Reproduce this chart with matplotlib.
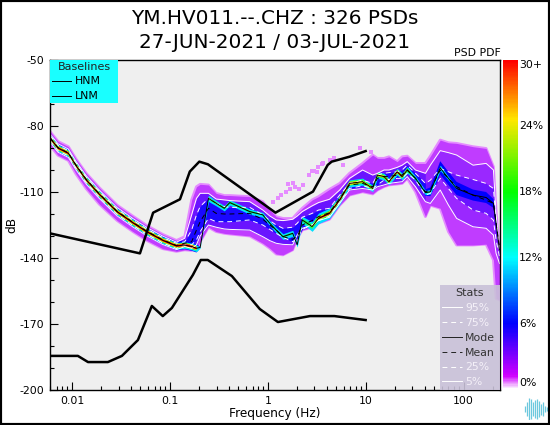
import matplotlib
matplotlib.use('Agg')
import matplotlib.pyplot as plt
from matplotlib.colors import LinearSegmentedColormap
from matplotlib.patches import Rectangle
from matplotlib.ticker import MultipleLocator, NullFormatter
import numpy as np

plt.rcParams['axes.unicode_minus'] = False

# frequency nodes (Hz)
fq = [.006, .0072, .0092, .011, .014, .019, .029, .042, .058, .085, .117,
      .142, .167, .187, .204, .248, .297, .36, .41, .655, .89, 1.05, 1.22,
      1.43, 1.8, 2.0, 2.25, 2.84, 3.3, 4.27, 5.43, 6.85, 9.3, 11.8, 13.2,
      15.4, 17.3, 21, 23.6, 26.6, 32.3, 40.8, 45.8, 57.8, 70, 85, 125, 170,
      202, 215, 233]

mode = [-85.6, -90, -92.4, -98, -104.5, -111, -119, -124, -128, -132, -134.5,
        -134.1, -134.8, -135.6, -135.2, -112.9, -115.1, -117.4, -114.8, -118.9,
        -120.4, -124.2, -127.3, -130.3, -128.8, -134, -122.7, -125.7, -122,
        -119.7, -113.7, -106.1, -105.3, -108.4, -102.3, -103, -105.3, -100.8,
        -103, -100, -103.8, -110.3, -109.9, -99, -103.8, -108.4, -111.4,
        -112.5, -115.2, -124.3, -136.4]
p95 = [-83.7, -88.1, -90.5, -96.1, -102.6, -109.1, -117.1, -122.1, -126.1, -130.1, -132.8,
       -131, -120.4, -112.9, -110.6, -110.6, -113.2, -113.6, -113.9, -114.4,
       -118.2, -120.9, -122.7, -123, -122.4, -120.9, -118.9, -116.3, -114.8,
       -113.3, -109.1, -103.8, -100, -102.3, -101.5, -100, -100, -98.8, -97.8,
       -96.2, -100, -101.5, -97.8, -91.2, -92.1, -93.2, -97.8, -97, -100,
       -119.7, -136.4]
p75 = [-84.4, -88.8, -91.2, -96.8, -103.3, -109.8, -117.8, -122.8, -126.8, -130.8, -133.3,
       -132.6, -127.3, -120.4, -116.6, -112.9, -115.1, -116.6, -117, -117,
       -120.4, -123, -125, -126.5, -126, -124.2, -121.5, -119.7, -118.2, -117.4,
       -111.4, -106.1, -104.6, -106.1, -102.3, -101.5, -101.2, -100.8, -100,
       -97.8, -101.5, -106.1, -104.6, -99.3, -100.8, -102.3, -104.3, -106.1,
       -108.4, -122.8, -137.1]
mean = [-85.4, -89.8, -92.2, -97.7, -104.2, -110.8, -118.8, -123.8, -127.8, -131.8, -134.3,
        -133.3, -132.6, -127.3, -123.5, -117.4, -119.7, -120, -120, -119.7,
        -122.4, -125, -127.3, -130.3, -131.5, -130.3, -125, -123, -121.2, -119.4,
        -112.9, -106.8, -106.1, -107.6, -103.8, -103, -103, -102.3, -102.3, -100,
        -103.8, -109.9, -109.1, -100, -103.8, -107.6, -111.4, -113.7, -115.2,
        -124.3, -134.9]
p25 = [-86.8, -91.2, -93.6, -99.2, -105.7, -112.2, -120.2, -125.2, -129.2, -133.2, -135.7,
       -134, -134, -131.8, -128, -122, -123.5, -123.5, -123.5, -122.7, -125, -127,
       -128.8, -130.6, -132.6, -131, -127, -125, -123, -120.9, -114.4, -108.4,
       -107.1, -108.4, -106.8, -104.6, -104.3, -103.8, -103.8, -101.5, -104.6,
       -111.4, -110.6, -103.8, -108.4, -112.9, -118.2, -119.7, -122.8, -131.8, -139.4]
p5 = [-87.5, -91.9, -94.3, -99.9, -106.4, -112.9, -120.9, -125.9, -129.9, -133.9, -136.2,
      -134.8, -135.6, -134, -130, -125, -126, -126.8, -127, -127.3, -130.3, -132.1,
      -133.3, -133.8, -134, -129.5, -126.5, -125, -123, -121.5, -115.2, -109.1,
      -108.4, -109.1, -107.6, -106.8, -106.1, -105.6, -105.3, -103, -107.6, -114.4,
      -115.2, -109.1, -115.9, -122, -125.8, -126.5, -129.6, -137.9, -142.5]

# edge of the coloured cloud
outer_hi = [-82.6, -87, -89.4, -95, -101.5, -108, -116, -121, -125.2, -129.3, -132,
            -130.3, -113.6, -107.6, -106.5, -106.8, -110.6, -111.6, -111.6, -112.1,
            -114.4, -118.2, -121.2, -122, -122, -119.7, -117.4, -113.6, -112.1, -108.8,
            -106.1, -101.5, -97, -93.2, -94.7, -94.7, -94, -96.2, -94, -93.7, -97, -97,
            -93.7, -86.4, -87.6, -87.9, -89.4, -90.2, -98.5, -118.2, -137.9]
outer_lo = [-88.9, -93.3, -95.7, -101.8, -108.5, -115.5, -123, -128, -132, -135.8, -137,
            -136.3, -136.6, -136, -132.6, -126, -128, -128.8, -129.1, -130, -133.3,
            -135.6, -138.2, -138.6, -136.3, -131, -127.3, -126, -124.2, -122.4, -116,
            -111.4, -109.9, -110.9, -109.1, -107.6, -106.8, -106.4, -106.1, -103.8,
            -109.9, -121.2, -116, -117.4, -128, -134.1, -134.1, -133.7, -140.9, -158.4, -159.1]

# half widths (dB) of the hot ridge around the mode
blue_w = [2.0]*11 + [1.9, 1.9, 1.9, 0.3] + [0.0]*26 + [1.5, 2.0, 3.0, 3.0, 3.0, 2.5, 2.5, 2.0, 2.0, 1.0]
cyan_w = [1.5]*11 + [1.5, 1.5, 1.5, 0.3, 1.4, 1.2, 1.2, 1.2, 1.2, 1.1, 1.1, 1.2,
                     1.3, 1.4, 1.0, 1.6, 2.2, 2.4, 2.4, 2.0, 1.6, 1.6, 1.5, 1.5,
                     1.5, 1.5, 1.5, 1.5, 1.5, 1.0, 1.0, 1.0, 1.2, 0.8, 0.4, 0.0,
                     0.0, 0.0, 0.0, 0.0]
green_w = [1.1]*11 + [1.1, 1.1, 1.1, 0.0, 0.6, 0.5, 0.5, 0.5, 0.4, 0.3, 0.3, 0.3,
                      0.4, 0.4, 0.0, 0.7, 1.1, 1.2, 1.2, 1.1, 1.0, 1.0, 0.9, 0.9,
                      0.9, 0.9, 0.9, 0.9, 0.9, 0.3, 0.2, 0.2, 0.3, 0.0, 0.0, 0.0,
                      0.0, 0.0, 0.0, 0.0]
yellow_w = [0.8]*11 + [0.8, 0.8, 0.8, 0.0, 0.0, 0.0, 0.0, 0.0, 0.0, 0.0, 0.0, 0.0,
                       0.0, 0.0, 0.0, 0.0, 0.5, 0.7, 0.8, 0.8, 0.7, 0.5, 0.5, 0.5,
                       0.5, 0.6, 0.7, 0.6, 0.4, 0.0, 0.0, 0.0, 0.0, 0.0, 0.0, 0.0,
                       0.0, 0.0, 0.0, 0.0]
red_w = [0.5]*11 + [0.6, 0.6, 0.5, 0.0, 0.0, 0.0, 0.0, 0.0, 0.0, 0.0, 0.0, 0.0,
                    0.0, 0.0, 0.0, 0.0, 0.0, 0.4, 0.5, 0.5, 0.4, 0.0, 0.0, 0.0,
                    0.0, 0.3, 0.4, 0.3, 0.0, 0.0, 0.0, 0.0, 0.0, 0.0, 0.0, 0.0,
                    0.0, 0.0, 0.0, 0.0]

# stray PSDs above the main cloud
stray_f = [1.13, 1.26, 1.36, 1.52, 1.69, 1.89, 2.11, 1.82, 1.6, 2.3, 2.67, 3.0,
           3.3, 3.7, 4.3, 4.8, 2.8, 3.2, 3.6, 5.9, 8.7, 11.3]
stray_db = [-114.4, -112.9, -111.3, -109.8, -108.8, -107.6, -108.8, -106, -106.5,
            -107, -102.3, -100.3, -98.5, -96.6, -95.4, -94.7, -100.3, -101, -97.5,
            -97.7, -90.2, -92]

# baselines
hnm_f = [.00597, .0495, .0675, .127, .16, .2, .245, 1.2, 2.9, 4.1, 4.5, 6.8, 10]
hnm_db = [-128.8, -137.9, -119.4, -113.3, -100.7, -96.2, -97.4, -119.4, -109.8,
          -97.7, -96.2, -94, -91.4]
lnm_f = [.00597, .0115, .0146, .0233, .0324, .0472, .0655, .0847, .105, .172, .207,
         .244, .43, .83, 1.27, 2.7, 4.8, 10]
lnm_db = [-184.5, -184.5, -187.3, -187.3, -184.5, -177.3, -161.8, -166.4, -162.7,
          -147.7, -140.9, -140.9, -148.2, -163.2, -169.1, -166.4, -166.4, -168.2]

y_ticks = [-50, -80, -110, -140, -170, -200]
cbar_ticks = [6, 12, 18, 24]
logo_amp = [3, 6, 10, 9, 6, 8, 9, 7, 5, 6, 3, 2]

W, H = 550, 425
fig = plt.figure(figsize=(W/100, H/100), dpi=100)
fig.patch.set_facecolor('white')
fig.add_artist(Rectangle((0, 0), 1, 1, transform=fig.transFigure, fill=False,
                         edgecolor='black', linewidth=3))

ax = fig.add_axes([50/W, 1 - 390/H, 449.5/W, 330/H])
ax.set_facecolor('#efefef')
ax.set_xscale('log')
ax.set_xlim(.00597, 233)
ax.set_ylim(-200, -50)

fq = np.array(fq)
mode_a = np.array(mode)
ax.scatter(stray_f, stray_db, marker='s', s=9, color='#e58cff', linewidths=0, zorder=1)
# soft fringe, then the cloud from the outside in
ax.plot(fq, outer_hi, color='#e58cff', lw=2, zorder=1)
ax.plot(fq, outer_lo, color='#e58cff', lw=2, zorder=1)
ax.fill_between(fq, outer_lo, outer_hi, color='#c03cff', linewidth=0, zorder=1)
ax.fill_between(fq, p5, p95, where=fq <= 41, color='#6a14ff', linewidth=0, zorder=1)
ax.fill_between(fq, p5, p95, where=fq >= 40, color='#9a28ff', linewidth=0, zorder=1)
ax.fill_between(fq, p25, p75, where=fq <= 41, color='#1a08ff', linewidth=0, zorder=1)
ax.fill_between(fq, p25, p75, where=fq >= 40, color='#6a14ff', linewidth=0, zorder=1)
for w, c in [(blue_w, '#0000ff'), (cyan_w, '#00e0ff'), (green_w, '#20ff40'),
             (yellow_w, '#ffe000'), (red_w, '#ff1000')]:
    w = np.array(w)
    ax.fill_between(fq, mode_a - w, mode_a + w, where=w > 0, color=c, linewidth=0, zorder=1)

ax.plot(fq, p95, color='white', lw=.7, zorder=2)
ax.plot(fq, p75, color='white', lw=.7, ls=(0, (5, 4)), zorder=2)
ax.plot(fq, p25, color='white', lw=.7, ls=(0, (5, 4)), zorder=2)
ax.plot(fq, p5, color='white', lw=.7, zorder=2)
ax.plot(fq, mean, color='black', lw=.7, ls=(0, (5, 4)), zorder=2)
ax.plot(fq, mode, color='black', lw=.7, zorder=2)

ax.plot(hnm_f, hnm_db, color='black', lw=1.8, zorder=3)
ax.plot(lnm_f, lnm_db, color='black', lw=1.8, zorder=3)

ax.set_xticks([.01, .1, 1, 10, 100], ['0.01', '0.1', '1', '10', '100'])
ax.xaxis.set_minor_formatter(NullFormatter())
ax.set_yticks(y_ticks)
ax.yaxis.set_minor_locator(MultipleLocator(10))
ax.tick_params(which='major', direction='in', length=6, width=.8, labelsize=7.8, pad=4)
ax.tick_params(which='minor', direction='in', length=3, width=.8)
ax.set_xlabel('Frequency (Hz)', fontsize=8.7)
ax.set_ylabel('dB', fontsize=8.7)
ax.xaxis.set_label_coords(.5, -17/330)
ax.yaxis.set_label_coords(-32/449.5, .5)
for s in ax.spines.values():
    s.set_linewidth(1)

# legends
h1 = [plt.Line2D([], [], color='black', lw=.7) for i in range(2)]
leg1 = ax.legend(h1, ['HNM', 'LNM'], title='Baselines', loc='upper left',
                 bbox_to_anchor=(0, 1 - 42/330, 68/449.5, 42/330), mode='expand',
                 borderaxespad=0, fontsize=7.8, title_fontsize=8, facecolor='#19ffff',
                 framealpha=1, edgecolor='none', fancybox=False, handlelength=1.8,
                 handletextpad=.3, labelspacing=.45, borderpad=.15)
leg1.get_title().set_color('#222222')
ax.add_artist(leg1)

stat_labels = ['95%', '75%', 'Mode', 'Mean', '25%', '5%']
stat_colors = ['white', 'white', '#222222', '#222222', 'white', 'white']
stat_styles = ['-', (0, (5, 4)), '-', (0, (5, 4)), (0, (5, 4)), '-']
h2 = [plt.Line2D([], [], color=c, lw=.7, ls=s) for c, s in zip(stat_colors, stat_styles)]
leg2 = ax.legend(h2, stat_labels, title='Stats', loc='lower right',
                 bbox_to_anchor=(1 - 60/449.5, 0, 60/449.5, 104/330), mode='expand',
                 borderaxespad=0, fontsize=7.8, title_fontsize=8, facecolor='#c9c1d8',
                 framealpha=.9, edgecolor='none', fancybox=False, handlelength=1.8,
                 handletextpad=.3, labelspacing=.45, borderpad=.25,
                 labelcolor=['#f4f0f8', '#f4f0f8', '#333333', '#333333', '#f4f0f8', '#f4f0f8'])
leg2.get_title().set_color('#333333')
leg2.set_zorder(6)

fig.text(.5, 1 - 19/H, 'YM.HV011.--.CHZ : 326 PSDs', ha='center', va='center', fontsize=14.4)
fig.text(.5, 1 - 42/H, '27-JUN-2021 / 03-JUL-2021', ha='center', va='center', fontsize=14.4)
fig.text(477/W, 1 - 53/H, 'PSD PDF', ha='center', va='center', fontsize=7.8)

# colorbar
cmap = LinearSegmentedColormap.from_list('pqlx', [
    (0.0, '#ffffff'), (0.04, '#d000ff'), (0.2, '#0000ff'), (0.4, '#00ffff'),
    (0.6, '#00ff00'), (0.82, '#ffe800'), (1.0, '#ff0000')])
cax = fig.add_axes([503/W, 1 - 390/H, 15/W, 330/H])
cax.imshow(np.linspace(1, 0, 330).reshape(-1, 1), aspect='auto', cmap=cmap,
           extent=[0, 1, 0, 30], interpolation='bilinear')
cax.axis('off')
for t in cbar_ticks:
    fig.text(519/W, 1 - (390 - t*11)/H, '%d%%' % t, ha='left', va='center', fontsize=7.8)
fig.text(519/W, 1 - 65/H, '30+', ha='left', va='center', fontsize=7.8)
fig.text(519/W, 1 - 383/H, '0%', ha='left', va='center', fontsize=7.8)

# little waveform logo in the corner
lax = fig.add_axes([524/W, 1 - 420/H, 24/W, 22/H])
lax.vlines(range(len(logo_amp)), [-a for a in logo_amp], logo_amp, color='#6cc8de', lw=.9)
lax.set_ylim(-10, 10)
lax.axis('off')

fig.savefig('out.png', dpi=100)
